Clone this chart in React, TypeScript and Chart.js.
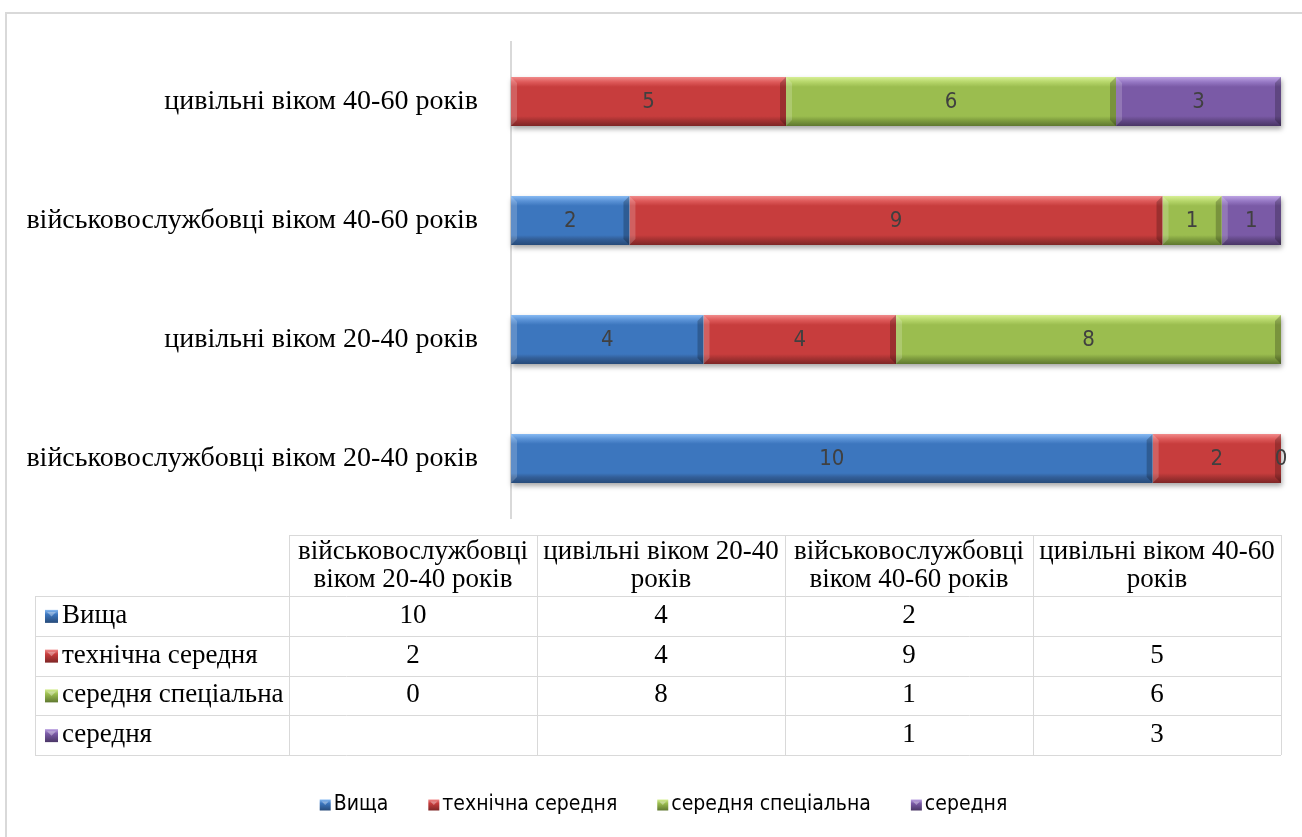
import React, { useEffect, useRef } from 'react';
import { Chart, registerables } from 'chart.js';

Chart.register(...registerables);

// ---------- data ----------
const categories = [
  'військовослужбовці віком 20-40 років',
  'цивільні віком 20-40 років',
  'військовослужбовці віком 40-60 років',
  'цивільні віком 40-60 років',
];
const seriesNames = ['Вища', 'технічна середня', 'середня спеціальна', 'середня'];
const vyshcha: (number | null)[] = [10, 4, 2, null];
const tekhnichna: (number | null)[] = [2, 4, 9, 5];
const spetsialna: (number | null)[] = [0, 8, 1, 6];
const serednia: (number | null)[] = [null, null, 1, 3];
const seriesValues = [vyshcha, tekhnichna, spetsialna, serednia];

// ---------- styles ----------
const palette = [
  { top: '#86B9F2', hi: '#5A92D6', main: '#3C76BE', lo: '#335F99', bottom: '#274B7A' },
  { top: '#F08A8A', hi: '#DE5A5A', main: '#C73D3D', lo: '#A83333', bottom: '#7E2626' },
  { top: '#D6EE94', hi: '#B6D66A', main: '#9BBD4F', lo: '#81A040', bottom: '#5F7830' },
  { top: '#BCA2E2', hi: '#9678C4', main: '#7A5AA6', lo: '#654A8A', bottom: '#4A3666' },
];
const SERIF = "'Liberation Serif', 'Times New Roman', serif";
const NARROW = "'Liberation Sans Narrow', 'DejaVu Sans Condensed', 'Arial Narrow', sans-serif";

const totals = categories.map((_, i) =>
  seriesValues.reduce((s, arr) => s + (arr[i] ?? 0), 0)
);
const percentData = seriesValues.map((arr) =>
  arr.map((v, i) => (v === null ? null : (v / totals[i]) * 100))
);

const BAR_PCT = 0.41;

function barGradient(ctx: any, k: number) {
  const chart = ctx.chart;
  const yScale = chart.scales?.y;
  const p = palette[k];
  if (!yScale || ctx.dataIndex === undefined) return p.main;
  const cy = yScale.getPixelForValue(ctx.dataIndex);
  const thick = (yScale.height / categories.length) * BAR_PCT;
  if (!isFinite(cy) || !isFinite(thick) || thick <= 0) return p.main;
  const g = chart.ctx.createLinearGradient(0, cy - thick / 2, 0, cy + thick / 2);
  g.addColorStop(0, p.top);
  g.addColorStop(0.1, p.hi);
  g.addColorStop(0.2, p.main);
  g.addColorStop(0.8, p.main);
  g.addColorStop(0.88, p.lo);
  g.addColorStop(1, p.bottom);
  return g;
}

function drawMarker(c: CanvasRenderingContext2D, x: number, y: number, s: number, k: number) {
  const p = palette[k];
  const g = c.createLinearGradient(0, y, 0, y + s);
  g.addColorStop(0, p.top);
  g.addColorStop(0.35, p.main);
  g.addColorStop(1, p.bottom);
  c.fillStyle = g;
  c.fillRect(x, y, s, s);
  c.fillStyle = 'rgba(255,255,255,0.35)';
  c.beginPath();
  c.moveTo(x + 2, y + 2);
  c.lineTo(x + s - 2, y + 2);
  c.lineTo(x + s / 2, y + s / 2);
  c.closePath();
  c.fill();
}

function wrapText(c: CanvasRenderingContext2D, text: string, maxW: number) {
  const words = text.split(' ');
  const lines: string[] = [];
  let cur = '';
  for (const w of words) {
    const t = cur ? cur + ' ' + w : w;
    if (c.measureText(t).width > maxW && cur) {
      lines.push(cur);
      cur = w;
    } else cur = t;
  }
  if (cur) lines.push(cur);
  return lines;
}

const framePlugin = {
  id: 'frame',
  beforeDraw(chart: any) {
    const c = chart.ctx as CanvasRenderingContext2D;
    c.save();
    c.fillStyle = '#ffffff';
    c.fillRect(0, 0, chart.width, chart.height);
    c.strokeStyle = '#d9d9d9';
    c.lineWidth = 2;
    c.strokeRect(6, 13, chart.width + 20, chart.height + 20);
    c.restore();
  },
};

const barFxPlugin = {
  id: 'barFx',
  beforeDatasetsDraw(chart: any) {
    const c = chart.ctx as CanvasRenderingContext2D;
    const metas = chart.getSortedVisibleDatasetMetas();
    c.save();
    c.shadowColor = 'rgba(0,0,0,0.35)';
    c.shadowBlur = 5;
    c.shadowOffsetX = 1;
    c.shadowOffsetY = 3;
    c.fillStyle = '#ffffff';
    categories.forEach((_, i) => {
      let x0 = Infinity, x1 = -Infinity, y = 0, h = 0;
      metas.forEach((m: any) => {
        const el = m.data[i];
        if (!el) return;
        const pr = el.getProps(['x', 'y', 'base', 'height'], true);
        if (!isFinite(pr.x) || !isFinite(pr.base)) return;
        x0 = Math.min(x0, pr.base, pr.x);
        x1 = Math.max(x1, pr.base, pr.x);
        y = pr.y; h = pr.height;
      });
      if (x1 > x0) c.fillRect(x0, y - h / 2, x1 - x0, h);
    });
    c.restore();
  },
  afterDatasetsDraw(chart: any) {
    const c = chart.ctx as CanvasRenderingContext2D;
    const metas = chart.getSortedVisibleDatasetMetas();
    c.save();
    metas.forEach((m: any) => {
      const k = m.index;
      m.data.forEach((el: any, i: number) => {
        const v = seriesValues[k][i];
        if (v === null) return;
        const pr = el.getProps(['x', 'y', 'base', 'height'], true);
        if (!isFinite(pr.x) || !isFinite(pr.base)) return;
        const l = Math.min(pr.x, pr.base), r = Math.max(pr.x, pr.base);
        const t = pr.y - pr.height / 2, b = pr.y + pr.height / 2;
        const bev = Math.min(6, (r - l) / 2);
        if (r - l > 1) {
          c.fillStyle = 'rgba(255,255,255,0.18)';
          c.beginPath();
          c.moveTo(l, t); c.lineTo(l + bev, t + bev); c.lineTo(l + bev, b - bev); c.lineTo(l, b);
          c.closePath(); c.fill();
          c.fillStyle = 'rgba(0,0,0,0.22)';
          c.beginPath();
          c.moveTo(r, t); c.lineTo(r - bev, t + bev); c.lineTo(r - bev, b - bev); c.lineTo(r, b);
          c.closePath(); c.fill();
        }
        c.fillStyle = '#404040';
        c.font = `22px ${NARROW}`;
        c.textAlign = 'center';
        c.textBaseline = 'middle';
        c.fillText(String(v), (l + r) / 2, pr.y + 1);
      });
    });
    c.restore();
  },
};

// data table + legend
const tablePlugin = {
  id: 'dataTable',
  afterDraw(chart: any) {
    const c = chart.ctx as CanvasRenderingContext2D;
    const left = 35, firstRight = 289, colW = 248;
    const headTop = 535, rowTop = 596, rowH = 39.75;
    const nRows = seriesNames.length;
    const bottom = rowTop + rowH * nRows;
    const right = firstRight + colW * categories.length;
    c.save();
    c.strokeStyle = '#d9d9d9';
    c.lineWidth = 1;
    c.beginPath();
    c.moveTo(firstRight, headTop + 0.5); c.lineTo(right, headTop + 0.5);
    for (let r = 0; r <= nRows; r++) {
      const y = Math.round(rowTop + rowH * r) + 0.5;
      c.moveTo(left, y); c.lineTo(right, y);
    }
    c.moveTo(left + 0.5, rowTop); c.lineTo(left + 0.5, bottom);
    for (let j = 0; j <= categories.length; j++) {
      const x = firstRight + colW * j + 0.5;
      c.moveTo(x, headTop); c.lineTo(x, bottom);
    }
    c.stroke();

    c.fillStyle = '#000000';
    c.font = `27px ${SERIF}`;
    c.textBaseline = 'middle';
    c.textAlign = 'center';
    categories.forEach((cat, j) => {
      const lines = wrapText(c, cat, colW - 6);
      const cx = firstRight + colW * j + colW / 2;
      lines.forEach((ln, li) => c.fillText(ln, cx, 552 + li * 28));
    });
    seriesNames.forEach((name, r) => {
      const cy = rowTop + rowH * r + rowH / 2;
      drawMarker(c, 45, cy - 6, 13, r);
      c.fillStyle = '#000000';
      c.textAlign = 'left';
      c.fillText(name, 62, cy);
      c.textAlign = 'center';
      seriesValues[r].forEach((v, j) => {
        if (v === null) return;
        c.fillText(String(v), firstRight + colW * j + colW / 2, cy);
      });
    });

    // legend
    c.font = `21px ${NARROW}`;
    const box = 11, gapText = 3, gapItem = 40;
    const widths = seriesNames.map((n) => box + gapText + c.measureText(n).width);
    const total = widths.reduce((a, b) => a + b, 0) + gapItem * (seriesNames.length - 1);
    let x = 663.5 - total / 2;
    const ly = 805;
    seriesNames.forEach((n, k) => {
      drawMarker(c, x, ly - box / 2, box, k);
      c.fillStyle = '#000000';
      c.textAlign = 'left';
      c.fillText(n, x + box + gapText, ly);
      x += widths[k] + gapItem;
    });
    c.restore();
  },
};

export default function App() {
  const ref = useRef<HTMLCanvasElement | null>(null);
  useEffect(() => {
    if (!ref.current) return;
    const chart = new Chart(ref.current, {
      type: 'bar',
      data: {
        labels: categories,
        datasets: seriesNames.map((name, k) => ({
          label: name,
          data: percentData[k],
          backgroundColor: (ctx: any) => barGradient(ctx, k),
          borderWidth: 0,
          barPercentage: BAR_PCT,
          categoryPercentage: 1,
        })),
      },
      options: {
        indexAxis: 'y',
        responsive: false,
        animation: false,
        layout: { padding: { top: 42, bottom: 319, left: 0, right: 21 } },
        plugins: {
          legend: { display: false },
          tooltip: { enabled: false },
        },
        scales: {
          x: { stacked: true, min: 0, max: 100, display: false },
          y: {
            stacked: true,
            reverse: true,
            grid: { display: false, drawTicks: false },
            border: { display: true, color: '#d9d9d9', width: 2 },
            ticks: { padding: 33, color: '#000000', font: { family: SERIF, size: 28 } },
            afterFit: (s: any) => {
              s.width = 511;
              s.paddingTop = 0;
              s.paddingBottom = 0;
            },
          },
        },
      },
      plugins: [framePlugin, barFxPlugin, tablePlugin],
    } as any);
    return () => chart.destroy();
  }, []);
  return (
    <div style={{ position: 'absolute', left: 0, top: 0, width: 1302, height: 837 }}>
      <canvas ref={ref} width={1302} height={837} style={{ display: 'block' }} />
    </div>
  );
}
